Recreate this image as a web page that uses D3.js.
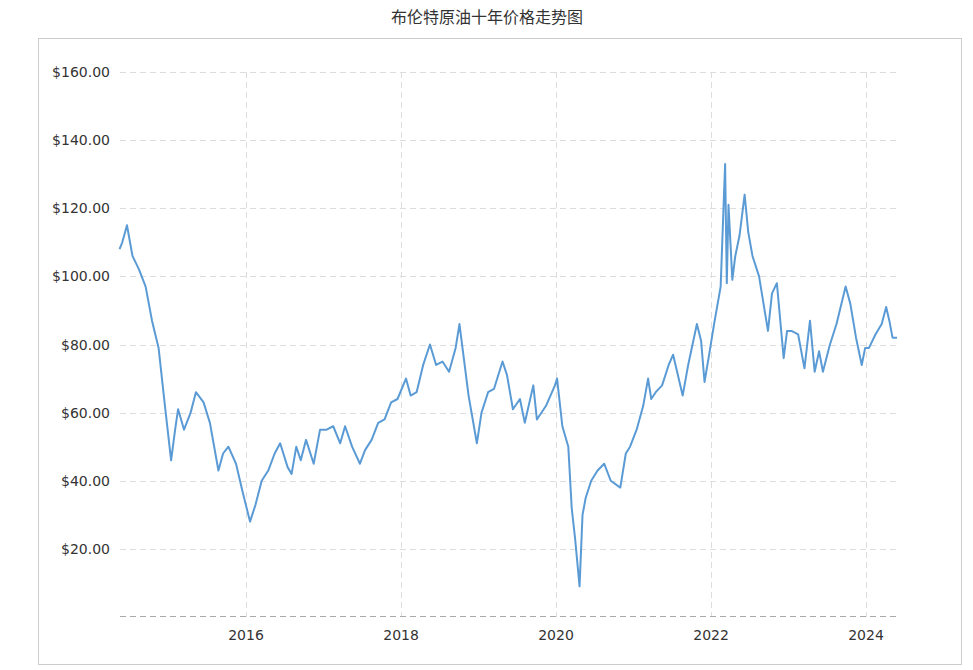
<!DOCTYPE html>
<html>
<head>
<meta charset="utf-8">
<script src="https://d3js.org/d3.v7.min.js"></script>
<style>
  body { margin: 0; background: #fff; font-family: Verdana, "DejaVu Sans", "Noto Sans CJK SC", sans-serif; }
</style>
</head>
<body>
<script>
// monthly Brent prices, plus a few extremes
var dates = [
  "2014-05-15","2014-05-28","2014-06-19","2014-07-15","2014-08-15","2014-09-15","2014-10-15","2014-11-15","2014-12-15",
  "2015-01-13","2015-02-01","2015-02-15","2015-03-15","2015-04-15","2015-05-10","2015-06-15","2015-07-15","2015-08-24","2015-09-15","2015-10-10","2015-11-15","2015-12-15",
  "2016-01-20","2016-02-15","2016-03-15","2016-04-15","2016-05-15","2016-06-10","2016-07-15","2016-08-03","2016-08-25","2016-09-15","2016-10-10","2016-11-15","2016-12-15",
  "2017-01-15","2017-02-15","2017-03-20","2017-04-12","2017-05-15","2017-06-21","2017-07-15","2017-08-15","2017-09-15","2017-10-15","2017-11-15","2017-12-15",
  "2018-01-24","2018-02-15","2018-03-15","2018-04-15","2018-05-17","2018-06-15","2018-07-15","2018-08-15","2018-09-15","2018-10-03","2018-11-15","2018-12-24",
  "2019-01-15","2019-02-15","2019-03-15","2019-04-24","2019-05-15","2019-06-12","2019-07-15","2019-08-07","2019-09-16","2019-10-03","2019-11-15","2019-12-27",
  "2020-01-06","2020-01-31","2020-02-28","2020-03-15","2020-03-31","2020-04-21","2020-05-05","2020-05-20","2020-06-15","2020-07-15","2020-08-15","2020-09-15","2020-10-30","2020-11-25","2020-12-15",
  "2021-01-15","2021-02-15","2021-03-10","2021-03-25","2021-04-15","2021-05-15","2021-06-15","2021-07-06","2021-08-20","2021-09-15","2021-10-26","2021-11-15","2021-12-01","2021-12-20",
  "2022-01-15","2022-02-15","2022-03-08","2022-03-16","2022-03-24","2022-04-11","2022-04-25","2022-05-15","2022-06-08","2022-06-25","2022-07-15","2022-08-15","2022-09-26","2022-10-15","2022-11-07","2022-12-09","2022-12-25",
  "2023-01-15","2023-02-15","2023-03-17","2023-04-12","2023-05-04","2023-05-25","2023-06-12","2023-07-15","2023-08-15","2023-09-27","2023-10-19","2023-11-15","2023-12-12","2023-12-28",
  "2024-01-15","2024-02-15","2024-03-15","2024-04-05","2024-04-20","2024-05-05","2024-05-26"
];
var prices = [
  108, 110, 115, 106, 102, 97, 87, 79, 62,
  46, 55, 61, 55, 60, 66, 63, 57, 43, 48, 50, 45, 37,
  28, 33, 40, 43, 48, 51, 44, 42, 50, 46, 52, 45, 55,
  55, 56, 51, 56, 50, 45, 49, 52, 57, 58, 63, 64,
  70, 65, 66, 74, 80, 74, 75, 72, 79, 86, 65, 51,
  60, 66, 67, 75, 71, 61, 64, 57, 68, 58, 62, 68,
  70, 56, 50, 32, 23, 9, 30, 35, 40, 43, 45, 40, 38, 48, 50,
  55, 62, 70, 64, 66, 68, 74, 77, 65, 74, 86, 81, 69, 76,
  86, 97, 133, 98, 121, 99, 106, 112, 124, 113, 106, 100, 84, 95, 98, 76, 84,
  84, 83, 73, 87, 72, 78, 72, 80, 86, 97, 92, 82, 74, 79,
  79, 83, 86, 91, 87, 82, 82
];
var yTicks = [20, 40, 60, 80, 100, 120, 140, 160];
var xTicks = ["2016-01-01", "2018-01-01", "2020-01-01", "2022-01-01", "2024-01-01"];
var title = "布伦特原油十年价格走势图";

var parse = d3.timeParse("%Y-%m-%d");
var data = dates.map(function(d, i) { return { date: parse(d), price: prices[i] }; });

var svg = d3.select("body").append("svg").attr("width", 973).attr("height", 670);

svg.append("text")
  .attr("x", 487).attr("y", 23)
  .attr("text-anchor", "middle")
  .style("font-size", "16px").style("fill", "#333")
  .text(title);

svg.append("rect")
  .attr("x", 38.5).attr("y", 38.5).attr("width", 923).attr("height", 626)
  .attr("fill", "none").attr("stroke", "#ccc");

var x = d3.scaleTime()
  .domain([parse("2016-01-01"), parse("2024-01-01")])
  .range([246, 866]);
var y = d3.scaleLinear().domain([0, 160]).range([617, 72]);

// horizontal grid
svg.selectAll(".hgrid").data(yTicks).enter().append("line")
  .attr("x1", 120).attr("x2", 897)
  .attr("y1", function(d) { return Math.round(y(d)) + 0.5; })
  .attr("y2", function(d) { return Math.round(y(d)) + 0.5; })
  .attr("stroke", "#ddd").attr("stroke-dasharray", "6,4");

// vertical grid
svg.selectAll(".vgrid").data(xTicks).enter().append("line")
  .attr("x1", function(d) { return Math.round(x(parse(d))) + 0.5; })
  .attr("x2", function(d) { return Math.round(x(parse(d))) + 0.5; })
  .attr("y1", 72).attr("y2", 617)
  .attr("stroke", "#ddd").attr("stroke-dasharray", "6,4");

// baseline
svg.append("line")
  .attr("x1", 120).attr("x2", 897).attr("y1", 616.5).attr("y2", 616.5)
  .attr("stroke", "#aaa").attr("stroke-dasharray", "6,4");

svg.selectAll(".ylab").data(yTicks).enter().append("text")
  .attr("x", 110).attr("y", function(d) { return y(d) + 5; })
  .attr("text-anchor", "end")
  .style("font-size", "14px").style("fill", "#333")
  .text(function(d) { return "$" + d.toFixed(2); });

svg.selectAll(".xlab").data(xTicks).enter().append("text")
  .attr("x", function(d) { return x(parse(d)); }).attr("y", 640)
  .attr("text-anchor", "middle")
  .style("font-size", "14px").style("fill", "#333")
  .text(function(d) { return d.slice(0, 4); });

var line = d3.line()
  .x(function(d) { return x(d.date); })
  .y(function(d) { return y(d.price); });

svg.append("path").datum(data)
  .attr("d", line)
  .attr("fill", "none")
  .attr("stroke", "#5b9bd5")
  .attr("stroke-width", 2)
  .attr("stroke-linejoin", "round");
</script>
</body>
</html>
